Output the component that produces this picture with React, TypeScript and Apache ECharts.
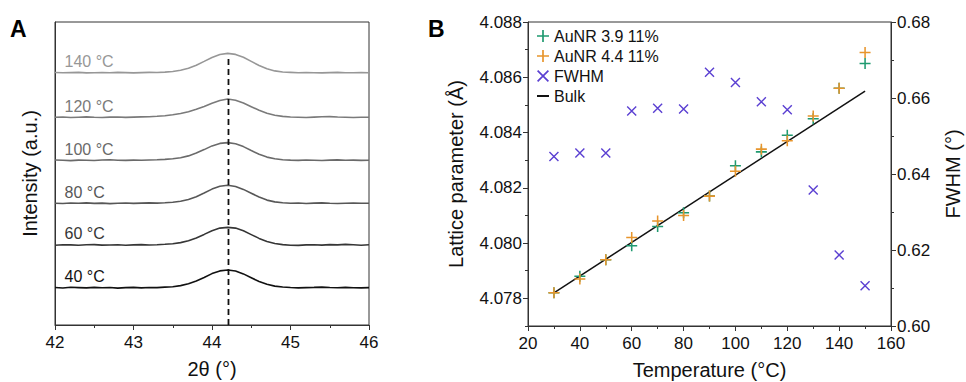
import React, { useEffect, useRef } from 'react';
import * as echarts from 'echarts';

// ---------- Panel A: XRD (111) peak vs temperature ----------
const TWO_THETA = [
  42.0, 42.1, 42.2, 42.3, 42.4, 42.5, 42.6, 42.7, 42.8, 42.9,
  43.0, 43.1, 43.2, 43.3, 43.4, 43.5, 43.6, 43.7, 43.8, 43.9,
  44.0, 44.1, 44.2, 44.3, 44.4, 44.5, 44.6, 44.7, 44.8, 44.9,
  45.0, 45.1, 45.2, 45.3, 45.4, 45.5, 45.6, 45.7, 45.8, 45.9, 46.0,
];
const TRACE_LABELS = ['40 °C', '60 °C', '80 °C', '100 °C', '120 °C', '140 °C'];
const TRACE_OFFSETS = [37.3, 80, 121.7, 164.7, 207.7, 252.3];
const XRD_40 = [0.2, -0.3, 0.4, 0.1, -0.2, 0.3, -0.1, 0.2, -0.4, 0.1, 0.3, -0.2, 0.2, 0.1, 0.6, 1.0, 2.1, 3.9, 6.6, 10.2, 14.1, 16.8, 17.7, 16.7, 13.8, 10.0, 6.2, 3.4, 1.6, 0.7, 0.2, -0.2, 0.1, 0.3, 0.6, 0.2, -0.1, 0.3, 0.0, -0.2, 0.1];
const XRD_60 = [-0.2, 0.3, 0.1, -0.3, 0.2, 0.4, -0.1, 0.0, 0.3, -0.2, 0.1, 0.4, 0.0, 0.3, 0.7, 1.3, 2.4, 4.2, 7.0, 10.6, 14.3, 16.9, 17.6, 16.9, 14.2, 10.4, 6.6, 3.6, 1.5, 0.4, -0.3, -0.4, 0.1, 0.2, -0.1, 0.4, 0.1, 0.6, 0.2, -0.2, 0.3];
const XRD_80 = [0.1, -0.2, 0.3, 0.0, 0.4, -0.1, 0.2, -0.3, 0.1, 0.3, -0.1, 0.2, 0.4, 0.2, 0.5, 1.1, 2.0, 3.8, 6.6, 10.3, 14.2, 17.0, 18.0, 16.8, 13.9, 10.1, 6.3, 3.2, 1.4, 0.5, 0.1, 0.3, -0.2, 0.2, 0.4, 0.0, -0.2, 0.1, 0.3, 0.0, 0.1];
const XRD_100 = [0.3, 0.0, -0.3, 0.2, 0.1, -0.2, 0.3, 0.5, 0.1, -0.1, 0.2, 0.0, 0.3, 0.5, 0.9, 1.5, 2.6, 4.4, 7.2, 10.7, 14.4, 16.9, 17.7, 16.6, 13.7, 9.8, 6.0, 3.2, 1.5, 0.6, 0.2, -0.1, 0.3, 0.1, -0.2, 0.2, 0.4, 0.0, 0.2, -0.1, 0.0];
const XRD_120 = [0.0, 0.3, -0.2, 0.1, 0.4, 0.0, -0.2, 0.2, 0.3, -0.1, 0.2, 0.4, 0.6, 1.0, 1.6, 2.5, 3.8, 5.6, 8.0, 10.9, 14.0, 16.8, 18.3, 17.0, 14.2, 10.6, 7.0, 4.0, 2.0, 0.9, 0.3, 0.1, -0.2, 0.2, 0.5, 0.7, 0.3, 0.1, -0.2, 0.0, 0.1];
const XRD_140 = [0.2, -0.1, 0.1, 0.3, -0.2, 0.0, 0.2, -0.1, 0.3, 0.1, -0.2, 0.1, 0.3, 0.2, 0.6, 1.2, 2.4, 4.4, 7.5, 11.3, 15.2, 18.2, 19.3, 18.3, 15.4, 11.3, 7.2, 3.9, 1.8, 0.7, 0.3, -0.1, 0.2, 0.0, -0.2, 0.1, 0.3, 0.0, -0.1, 0.2, 0.0];
const XRD_TRACES = [XRD_40, XRD_60, XRD_80, XRD_100, XRD_120, XRD_140];
const TRACE_COLORS = ['#111111', '#363636', '#575757', '#6a6a6a', '#7a7a7a', '#979797'];
const PEAK_2THETA = 44.21;
const PEAK_LINE_TOP = 266;
const LABEL_2THETA = 42.115;
const LABEL_RISE = 11.3;

// ---------- Panel B: lattice parameter & FWHM vs temperature ----------
const TEMPERATURE = [30, 40, 50, 60, 70, 80, 90, 100, 110, 120, 130, 140, 150];
const LATTICE_39 = [4.0782, 4.0788, 4.0794, 4.0799, 4.0806, 4.0811, 4.0817, 4.0828, 4.0833, 4.0839, 4.0845, 4.0856, 4.0865];
const LATTICE_44 = [4.0782, 4.0787, 4.0794, 4.0802, 4.0808, 4.0810, 4.0817, 4.0826, 4.0834, 4.0837, 4.0846, 4.0856, 4.0869];
const FWHM = [0.6446, 0.6455, 0.6455, 0.6566, 0.6573, 0.6571, 0.6668, 0.6641, 0.6590, 0.6569, 0.6358, 0.6187, 0.6106];
const BULK_T = [30, 150];
const BULK_A = [4.0782, 4.0855];
const LEFT_LABELS = [4.078, 4.08, 4.082, 4.084, 4.086, 4.088];

const FONT = 'Liberation Sans, Arial, sans-serif';
const GREEN = '#1f9a70';
const ORANGE = '#e8952c';
const PURPLE = '#5b40d2';
const AXIS = '#333';
const TXT = '#111';
const PLUS = 'path://M4.3,0H5.7V4.3H10V5.7H5.7V10H4.3V5.7H0V4.3H4.3Z';
const CROSS = 'path://M0,1L1,0L10,9L9,10Z M9,0L10,1L1,10L0,9Z';

export default function App() {
  const ref = useRef<HTMLDivElement>(null);
  useEffect(() => {
    if (!ref.current) return;
    const chart = echarts.init(ref.current, undefined, { renderer: 'svg' });
    const tick = { fontSize: 17, color: TXT, fontFamily: FONT };
    const nameStyle = { fontSize: 20, color: TXT, fontFamily: FONT };

    const traceSeries = XRD_TRACES.map((arr, k) => ({
      type: 'line',
      xAxisIndex: 0,
      yAxisIndex: 0,
      showSymbol: false,
      silent: true,
      data: TWO_THETA.map((t, i) => [t, TRACE_OFFSETS[k] + arr[i]]),
      lineStyle: { color: TRACE_COLORS[k], width: 1.6 },
      z: 2,
    }));

    const option: any = {
      animation: false,
      backgroundColor: '#fff',
      textStyle: { fontFamily: FONT },
      graphic: [
        { type: 'text', left: 10, top: 17, style: { text: 'A', fontSize: 23, fontWeight: 'bold', fill: '#000', fontFamily: FONT } },
        { type: 'text', left: 428, top: 17, style: { text: 'B', fontSize: 23, fontWeight: 'bold', fill: '#000', fontFamily: FONT } },
      ],
      grid: [
        { left: 55, top: 22, width: 314, height: 303, show: true, borderColor: AXIS, borderWidth: 1, outerBoundsMode: 'none' },
        { left: 528, top: 22, width: 363, height: 304, show: true, borderColor: AXIS, borderWidth: 1, outerBoundsMode: 'none' },
      ],
      legend: {
        orient: 'vertical',
        left: 537,
        top: 28,
        padding: 0,
        itemGap: 4,
        itemWidth: 12,
        itemHeight: 12,
        selectedMode: false,
        textStyle: { fontSize: 16, color: TXT, fontFamily: FONT, lineHeight: 16 },
        data: [
          { name: 'AuNR 3.9 11%', icon: PLUS },
          { name: 'AuNR 4.4 11%', icon: PLUS },
          { name: 'FWHM', icon: CROSS },
          { name: 'Bulk', icon: 'path://M0,0H12V2H0Z' },
        ],
      },
      xAxis: [
        {
          gridIndex: 0, type: 'value', min: 42, max: 46, interval: 1,
          name: '2θ (°)', nameLocation: 'middle', nameGap: 34, nameTextStyle: nameStyle,
          axisLine: { lineStyle: { color: AXIS } },
          axisTick: { length: 5, lineStyle: { color: AXIS } },
          minorTick: { show: true, splitNumber: 2, length: 3, lineStyle: { color: AXIS } },
          axisLabel: { ...tick, margin: 9 },
          splitLine: { show: false },
        },
        {
          gridIndex: 1, type: 'value', min: 20, max: 160, interval: 20,
          name: 'Temperature (°C)', nameLocation: 'middle', nameGap: 34, nameTextStyle: nameStyle,
          axisLine: { lineStyle: { color: AXIS } },
          axisTick: { length: 5, lineStyle: { color: AXIS } },
          minorTick: { show: true, splitNumber: 2, length: 3, lineStyle: { color: AXIS } },
          axisLabel: { ...tick, margin: 9 },
          splitLine: { show: false },
        },
      ],
      yAxis: [
        {
          gridIndex: 0, type: 'value', min: 0, max: 303,
          name: 'Intensity (a.u.)', nameLocation: 'middle', nameGap: 15, nameTextStyle: nameStyle,
          axisLine: { show: true, lineStyle: { color: AXIS } },
          axisTick: { show: false },
          axisLabel: { show: false },
          splitLine: { show: false },
        },
        {
          gridIndex: 1, type: 'value', position: 'left', min: 4.077, max: 4.088, interval: 0.001,
          name: 'Lattice parameter (Å)', nameLocation: 'middle', nameGap: 62, nameTextStyle: nameStyle,
          axisLine: { show: true, lineStyle: { color: AXIS } },
          axisTick: { show: true, length: 5, customValues: LEFT_LABELS, lineStyle: { color: AXIS } },
          axisLabel: {
            ...tick, margin: 6, customValues: LEFT_LABELS,
            formatter: (v: number) => (Math.round(v * 1000) % 2 === 0 ? v.toFixed(3) : ''),
          },
          splitLine: { show: false },
        },
        {
          gridIndex: 1, type: 'value', position: 'right', min: 0.6, max: 0.68, interval: 0.02,
          name: 'FWHM (°)', nameLocation: 'middle', nameGap: 52, nameTextStyle: nameStyle,
          axisLine: { show: true, lineStyle: { color: AXIS } },
          axisTick: { show: true, length: 5, lineStyle: { color: AXIS } },
          minorTick: { show: true, splitNumber: 2, length: 3, lineStyle: { color: AXIS } },
          axisLabel: { ...tick, margin: 6, formatter: (v: number) => v.toFixed(2) },
          splitLine: { show: false },
        },
        {
          gridIndex: 1, type: 'value', position: 'left', min: 4.077, max: 4.088, interval: 0.001,
          axisLine: { show: false },
          axisTick: { show: true, length: 3, lineStyle: { color: AXIS } },
          axisLabel: { show: false },
          splitLine: { show: false },
        },
      ],
      series: [
        ...traceSeries,
        {
          type: 'scatter',
          xAxisIndex: 0,
          yAxisIndex: 0,
          symbolSize: 1,
          silent: true,
          itemStyle: { color: 'rgba(255,255,255,0)', opacity: 1 },
          data: TRACE_LABELS.map((name, k) => ({
            name,
            value: [LABEL_2THETA, TRACE_OFFSETS[k] + LABEL_RISE],
            label: { color: TRACE_COLORS[k] },
          })),
          label: {
            show: true, position: 'right', distance: 0, fontSize: 16, fontFamily: FONT,
            formatter: (p: any) => p.name,
          },
          labelLayout: { hideOverlap: false },
          z: 3,
        },
        {
          type: 'line',
          xAxisIndex: 0,
          yAxisIndex: 0,
          showSymbol: false,
          silent: true,
          data: [[PEAK_2THETA, 0], [PEAK_2THETA, PEAK_LINE_TOP]],
          lineStyle: { color: '#111', width: 1.8, type: [6, 4] },
          z: 4,
        },
        {
          name: 'Bulk',
          type: 'line',
          xAxisIndex: 1,
          yAxisIndex: 1,
          showSymbol: false,
          data: BULK_T.map((t, i) => [t, BULK_A[i]]),
          lineStyle: { color: '#111', width: 1.5 },
          itemStyle: { color: '#111' },
          z: 2,
        },
        {
          name: 'FWHM',
          type: 'scatter',
          xAxisIndex: 1,
          yAxisIndex: 2,
          symbol: CROSS,
          symbolSize: 10,
          data: TEMPERATURE.map((t, i) => [t, FWHM[i]]),
          itemStyle: { color: PURPLE, opacity: 1 },
          z: 3,
        },
        {
          name: 'AuNR 3.9 11%',
          type: 'scatter',
          xAxisIndex: 1,
          yAxisIndex: 1,
          symbol: PLUS,
          symbolSize: 11,
          data: TEMPERATURE.map((t, i) => [t, LATTICE_39[i]]),
          itemStyle: { color: GREEN, opacity: 1 },
          z: 3,
        },
        {
          name: 'AuNR 4.4 11%',
          type: 'scatter',
          xAxisIndex: 1,
          yAxisIndex: 1,
          symbol: PLUS,
          symbolSize: 11,
          data: TEMPERATURE.map((t, i) => [t, LATTICE_44[i]]),
          itemStyle: { color: ORANGE, opacity: 1 },
          z: 4,
        },
      ],
    };
    chart.setOption(option);
    return () => chart.dispose();
  }, []);
  return (
    <div
      ref={ref}
      style={{ position: 'fixed', left: 0, top: 0, width: 966, height: 382, background: '#fff' }}
    />
  );
}
